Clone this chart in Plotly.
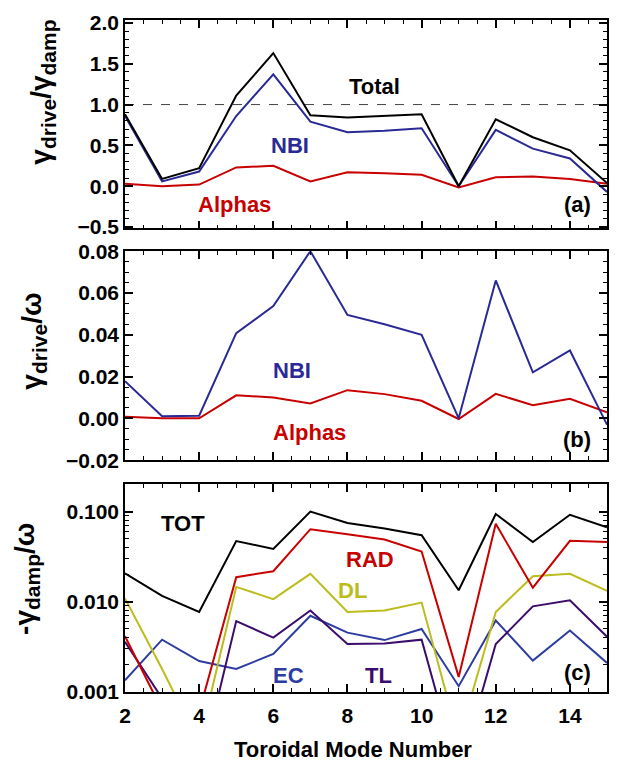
import plotly.graph_objects as go

# toroidal mode numbers
n = list(range(2, 16))

# (a) gamma_drive / gamma_damp
total_a = [0.88, 0.09, 0.22, 1.11, 1.63, 0.87, 0.84, 0.86, 0.88, 0.00, 0.82, 0.60, 0.44, 0.04]
nbi_a = [0.86, 0.06, 0.18, 0.86, 1.37, 0.79, 0.66, 0.68, 0.71, 0.00, 0.69, 0.46, 0.34, -0.07]
alpha_a = [0.03, 0.00, 0.02, 0.23, 0.25, 0.06, 0.17, 0.16, 0.14, -0.015, 0.11, 0.12, 0.09, 0.03]
ref_level = 1.0

# (b) gamma_drive / omega
nbi_b = [0.0178, 0.0010, 0.0013, 0.0408, 0.0537, 0.0800, 0.0495, 0.0450, 0.0400, 0.0000,
         0.0660, 0.0220, 0.0325, -0.0030]
alpha_b = [0.0008, 0.0000, 0.0000, 0.0110, 0.0100, 0.0071, 0.0135, 0.0116, 0.0084, -0.0003,
           0.0117, 0.0063, 0.0094, 0.0029]

# (c) -gamma_damp / omega
tot_c = [0.0206, 0.0116, 0.0077, 0.047, 0.0385, 0.100, 0.0746, 0.0647, 0.0547, 0.0134,
         0.094, 0.046, 0.092, 0.067]
rad_c = [0.00415, 0.00063, 0.0006, 0.0187, 0.0218, 0.0637, 0.056, 0.049, 0.036, 0.00147,
         0.073, 0.0143, 0.0474, 0.046]
dl_c = [0.0109, 0.0018, 0.00027, 0.0146, 0.0107, 0.0204, 0.0077, 0.0080, 0.0098, 0.0003,
        0.0077, 0.0192, 0.0204, 0.0132]
tl_c = [0.0036, 0.00085, 0.00012, 0.0061, 0.0040, 0.0080, 0.0034, 0.00345, 0.0038, 0.000125,
        0.0034, 0.0089, 0.0104, 0.0041]
ec_c = [0.00135, 0.0038, 0.0022, 0.0018, 0.00264, 0.0070, 0.00455, 0.00376, 0.0050, 0.00116,
        0.0062, 0.00223, 0.0048, 0.0021]

log_ticks = [0.001, 0.010, 0.100]
log_ticktext = ["0.001", "0.010", "0.100"]

BLACK = "#000000"
BLUE = "#2a2a96"
RED = "#c80000"
YELLOW = "#bcbc1c"
PURPLE = "#3c0c6c"
EC_BLUE = "#2d3ca0"
FONT = "Liberation Sans, Arial, sans-serif"

fig = go.Figure()


def line(x, y, color, ax, dash="solid", width=2):
    fig.add_trace(go.Scatter(x=x, y=y, mode="lines", line=dict(color=color, width=width, dash=dash),
                             xaxis="x" + ax, yaxis="y" + ax, showlegend=False, hoverinfo="skip"))


line(n, [ref_level] * len(n), "#444444", "", dash="dash", width=1)
line(n, alpha_a, RED, "")
line(n, nbi_a, BLUE, "")
line(n, total_a, BLACK, "")

line(n, alpha_b, RED, "2")
line(n, nbi_b, BLUE, "2")

line(n, ec_c, EC_BLUE, "3")
line(n, tl_c, PURPLE, "3")
line(n, dl_c, YELLOW, "3")
line(n, rad_c, RED, "3")
line(n, tot_c, BLACK, "3")

axis_style = dict(showline=True, linecolor="black", linewidth=1.5, mirror="ticks",
                  ticks="inside", ticklen=8, tickwidth=1.5, tickcolor="black",
                  showgrid=False, zeroline=False,
                  tickfont=dict(family=FONT, size=21, color="black", weight="bold"))

xcommon = dict(axis_style, range=[2, 15], tickvals=list(range(2, 15, 2)),
               minor=dict(ticks="inside", ticklen=4, tickwidth=1, tickcolor="black", dtick=0.5))

fig.update_layout(
    width=617, height=764,
    margin=dict(l=125, r=8, t=14, b=72),
    plot_bgcolor="white", paper_bgcolor="white",
    font=dict(family=FONT, color="black"),
    xaxis=dict(xcommon, anchor="y", showticklabels=False),
    xaxis2=dict(xcommon, anchor="y2", showticklabels=False),
    xaxis3=dict(xcommon, anchor="y3", ticklabelstandoff=4),
    yaxis=dict(axis_style, domain=[0.690, 1.0], range=[-0.515, 2.035], tickvals=[-0.5, 0, 0.5, 1, 1.5, 2],
               tickformat=".1f",
               minor=dict(ticks="inside", ticklen=4, tickwidth=1, tickcolor="black", dtick=0.1),
               anchor="x"),
    yaxis2=dict(axis_style, domain=[0.345, 0.656], range=[-0.02, 0.08], dtick=0.02, tickformat=".2f",
                minor=dict(ticks="inside", ticklen=4, tickwidth=1, tickcolor="black", dtick=0.005),
                anchor="x2"),
    yaxis3=dict(axis_style, domain=[0.0, 0.309], type="log", range=[-3, -0.699],
                tickvals=log_ticks, ticktext=log_ticktext,
                minor=dict(ticks="inside", ticklen=4, tickwidth=1, tickcolor="black", dtick="D1"),
                anchor="x3"),
)


def label(text, x, y, color, ax):
    fig.add_annotation(text=text, x=x, y=y, xref="x" + ax, yref="y" + ax, showarrow=False,
                       font=dict(family=FONT, size=22, color=color, weight="bold"))


label("Total", 8.72, 1.22, BLACK, "")
label("NBI", 6.45, 0.5, BLUE, "")
label("Alphas", 4.94, -0.22, RED, "")
label("(a)", 14.2, -0.22, BLACK, "")

label("NBI", 6.5, 0.023, BLUE, "2")
label("Alphas", 6.98, -0.007, RED, "2")
label("(b)", 14.2, -0.010, BLACK, "2")

label("TOT", 3.57, -1.135, BLACK, "3")
label("RAD", 8.62, -1.535, RED, "3")
label("DL", 8.14, -1.88, YELLOW, "3")
label("EC", 6.4, -2.818, EC_BLUE, "3")
label("TL", 8.85, -2.818, PURPLE, "3")
label("(c)", 14.2, -2.78, BLACK, "3")

sub = "<span style='font-size:21px'>%s</span>"
titles = [
    ("γ<sub>" + sub % "drive" + "</sub>/γ<sub>" + sub % "damp" + "</sub>", -0.17, 0.892),
    ("γ<sub>" + sub % "drive" + "</sub>/ω", -0.19, 0.522),
    ("-γ<sub>" + sub % "damp" + "</sub>/ω", -0.203, 0.1685),
]
for text, x, y in titles:
    fig.add_annotation(text=text, x=x, y=y, xref="paper", yref="paper", textangle=-90,
                       showarrow=False, xanchor="center", yanchor="middle",
                       font=dict(family=FONT, size=28, color="black", weight="bold"))

fig.add_annotation(text="Toroidal Mode Number", x=0.472, y=-0.0855, xref="paper", yref="paper",
                   showarrow=False, xanchor="center", yanchor="middle",
                   font=dict(family=FONT, size=22, color="black", weight="bold"))

# drop the default page margin so the figure fills the window exactly
fig.write_html("out.html", config={"displayModeBar": False},
               post_script="document.body.style.margin = '0';")
